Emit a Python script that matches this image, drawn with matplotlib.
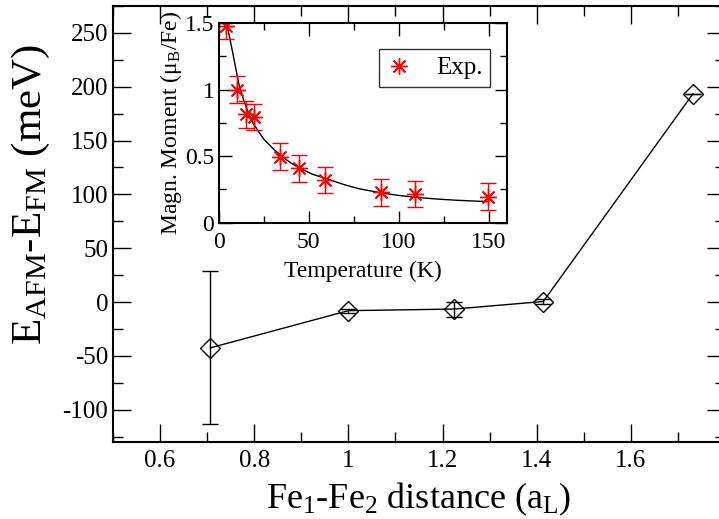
import matplotlib
matplotlib.use("Agg")
import matplotlib.pyplot as plt
from matplotlib.ticker import MultipleLocator, FuncFormatter

plt.rcParams['font.family'] = ['Liberation Serif', 'DejaVu Serif']
plt.rcParams['mathtext.fontset'] = 'custom'
plt.rcParams['mathtext.rm'] = 'Liberation Serif'
plt.rcParams['mathtext.it'] = 'Liberation Serif:italic'

# Main data: Fe1-Fe2 distance vs energy difference
distance = [0.707, 1.0, 1.225, 1.414, 1.732]
energy = [-42.5, -8.0, -6.5, 0.5, 193.5]
energy_err = [71.0, 2.0, 7.0, 2.0, 0.0]

# Inset data: magnetic moment vs temperature
temperature = [4, 10.5, 15.2, 19.8, 34.3, 44.7, 59.2, 90.2, 109.2, 149.7]
moment = [1.48, 1.0, 0.815, 0.795, 0.495, 0.408, 0.32, 0.228, 0.215, 0.195]
moment_err = [0.1, 0.1, 0.1, 0.1, 0.1, 0.1, 0.1, 0.1, 0.1, 0.1]

# Inset fit curve
fit_T = [5, 6.5, 8, 10, 11.5, 14, 16.5, 19, 22, 25, 30, 35, 40, 45, 52, 60, 70, 78, 90, 100, 110, 122, 133, 150]
fit_M = [1.47, 1.37, 1.27, 1.13, 1.03, 0.92, 0.83, 0.75, 0.69, 0.63, 0.56, 0.50, 0.45, 0.41, 0.365, 0.33, 0.285, 0.255, 0.225, 0.205, 0.19, 0.177, 0.168, 0.158]

fig = plt.figure(figsize=(7.19, 5.19), dpi=100)
ax = fig.add_axes([113/719, 77/519, 612/719, 436/519])

ax.errorbar(distance, energy, yerr=energy_err, color='black', lw=1.0,
            marker='D', ms=10, mfc='none', mec='black', mew=1.0,
            ecolor='black', elinewidth=1.0, capsize=6, capthick=1.0)
ax.set_xlim(0.5, 1.8)
ax.set_ylim(-130, 275)
ax.xaxis.set_major_locator(MultipleLocator(0.2))
ax.xaxis.set_minor_locator(MultipleLocator(0.1))
ax.yaxis.set_major_locator(MultipleLocator(50))
ax.yaxis.set_minor_locator(MultipleLocator(25))
fmt = FuncFormatter(lambda v, p: ('%g' % round(v, 6)))
xfmt = FuncFormatter(lambda v, p: ('' if v > 1.75 else '%g' % round(v, 6)))
ax.xaxis.set_major_formatter(xfmt)
ax.yaxis.set_major_formatter(fmt)
ax.tick_params(which='both', direction='in', top=True, right=True, width=1.0, labelsize=18)
ax.tick_params(which='major', length=13)
ax.tick_params(which='minor', length=7)
ax.tick_params(axis='x', pad=6)
for s in ax.spines.values():
    s.set_linewidth(1.5)
ax.set_xlabel('Fe$_{\\mathrm{1}}$-Fe$_{\\mathrm{2}}$ distance (a$_{\\mathrm{L}}$)', fontsize=26, labelpad=6)
ax.set_ylabel('E$_{\\mathrm{AFM}}$-E$_{\\mathrm{FM}}$ (meV)', fontsize=31)
ax.yaxis.set_label_coords(-0.099, 0.569)

# Inset
ins = fig.add_axes([218.5/719, (519-222.7)/519, 288.2/719, 199.7/519])
ins.plot(fit_T, fit_M, color='black', lw=1.0)
ins.errorbar(temperature, moment, yerr=moment_err, color='red', ls='none',
             ecolor='red', elinewidth=1.0, capsize=6, capthick=1.0)
ins.plot(temperature, moment, ls='none', marker=(8, 2, 0), ms=12, mew=1.0,
         color='red', label='Exp.')
ins.set_xlim(0, 160)
ins.set_ylim(0, 1.5)
ins.xaxis.set_major_locator(MultipleLocator(50))
ins.xaxis.set_minor_locator(MultipleLocator(25))
ins.yaxis.set_major_locator(MultipleLocator(0.5))
ins.yaxis.set_minor_locator(MultipleLocator(0.25))
ins.xaxis.set_major_formatter(fmt)
ins.yaxis.set_major_formatter(fmt)
ins.tick_params(which='both', direction='in', top=True, right=True, width=1.0, labelsize=17, pad=3)
ins.tick_params(axis='x', pad=7)
ins.tick_params(which='major', length=9)
ins.tick_params(which='minor', length=5)
for s in ins.spines.values():
    s.set_linewidth(1.5)
ins.set_xlabel('Temperature (K)', fontsize=17, labelpad=5)
ins.set_ylabel('Magn. Moment (μ$_{\\mathrm{B}}$/Fe)', fontsize=17, labelpad=1)
leg = ins.legend(loc='upper right', bbox_to_anchor=(490/719, (519-49.3)/519), bbox_transform=fig.transFigure,
                 fontsize=18, frameon=True, fancybox=False, edgecolor='black', borderpad=0.3,
                 borderaxespad=0, handlelength=1.0, handletextpad=1.0)
leg.get_frame().set_linewidth(1.0)

fig.savefig('out.png', dpi=100)
